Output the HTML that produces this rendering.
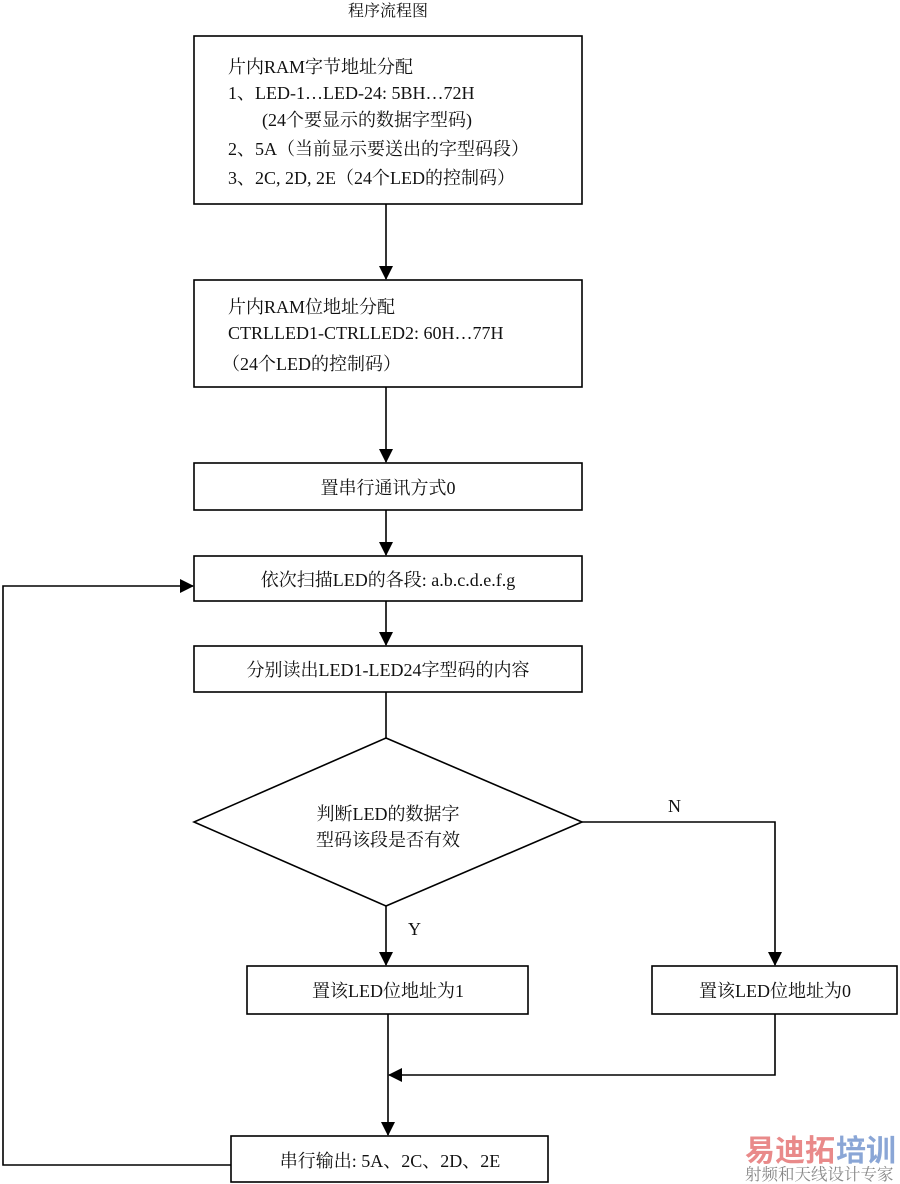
<!DOCTYPE html>
<html><head><meta charset="utf-8"><style>
html,body{margin:0;padding:0;background:#fff;}
svg{display:block;}
text{font-family:"Liberation Serif","Noto Serif CJK SC","Noto Sans CJK SC",serif;font-size:18px;fill:#111;}
</style></head><body>
<svg width="900" height="1184" viewBox="0 0 900 1184" xmlns="http://www.w3.org/2000/svg">
<defs>
<marker id="a" markerWidth="14" markerHeight="14" refX="13" refY="7" orient="auto" markerUnits="userSpaceOnUse">
<path d="M0,0 L14,7 L0,14 Z" fill="#000"/></marker>
</defs>
<g stroke="#000" stroke-width="1.6" fill="none">
<rect x="194" y="36" width="388" height="168"/>
<rect x="194" y="280" width="388" height="107"/>
<rect x="194" y="463" width="388" height="47"/>
<rect x="194" y="556" width="388" height="45"/>
<rect x="194" y="646" width="388" height="46"/>
<path d="M386,738 L582,822 L386,906 L194,822 Z"/>
<rect x="247" y="966" width="281" height="48"/>
<rect x="652" y="966" width="245" height="48"/>
<rect x="231" y="1136" width="317" height="46"/>
<line x1="386" y1="204" x2="386" y2="279" marker-end="url(#a)"/>
<line x1="386" y1="387" x2="386" y2="462" marker-end="url(#a)"/>
<line x1="386" y1="510" x2="386" y2="555" marker-end="url(#a)"/>
<line x1="386" y1="601" x2="386" y2="645" marker-end="url(#a)"/>
<line x1="386" y1="692" x2="386" y2="738"/>
<line x1="386" y1="906" x2="386" y2="965" marker-end="url(#a)"/>
<polyline points="582,822 775,822 775,965" marker-end="url(#a)"/>
<polyline points="775,1014 775,1075 389,1075" marker-end="url(#a)"/>
<line x1="388" y1="1014" x2="388" y2="1135" marker-end="url(#a)"/>
<polyline points="231,1165 3,1165 3,586 193,586" marker-end="url(#a)"/>
</g>
<text x="388" y="16" text-anchor="middle" style="font-size:16px">程序流程图</text>
<text x="228" y="73">片内RAM字节地址分配</text>
<text x="228" y="99">1、LED-1…LED-24:  5BH…72H</text>
<text x="262" y="126">(24个要显示的数据字型码)</text>
<text x="228" y="155">2、5A（当前显示要送出的字型码段）</text>
<text x="228" y="184">3、2C, 2D, 2E（24个LED的控制码）</text>
<text x="228" y="313">片内RAM位地址分配</text>
<text x="228" y="339">CTRLLED1-CTRLLED2:  60H…77H</text>
<text x="222" y="370">（24个LED的控制码）</text>
<text x="388" y="494" text-anchor="middle">置串行通讯方式0</text>
<text x="388" y="586" text-anchor="middle">依次扫描LED的各段: a.b.c.d.e.f.g</text>
<text x="388" y="676" text-anchor="middle">分别读出LED1-LED24字型码的内容</text>
<text x="388" y="820" text-anchor="middle">判断LED的数据字</text>
<text x="388" y="846" text-anchor="middle">型码该段是否有效</text>
<text x="668" y="812">N</text>
<text x="408" y="935">Y</text>
<text x="388" y="997" text-anchor="middle">置该LED位地址为1</text>
<text x="775" y="997" text-anchor="middle">置该LED位地址为0</text>
<text x="390" y="1167" text-anchor="middle">串行输出:  5A、2C、2D、2E</text>
<text x="745" y="1161" style="font-size:30px;fill:#e98a8a;font-weight:bold;font-family:'Noto Sans CJK SC',sans-serif">易迪拓</text>
<text x="836" y="1161" style="font-size:30px;fill:#8aa6d6;font-weight:bold;font-family:'Noto Sans CJK SC',sans-serif">培训</text>
<text x="745" y="1180" style="font-size:16.5px;fill:#888">射频和天线设计专家</text>
</svg>
</body></html>
